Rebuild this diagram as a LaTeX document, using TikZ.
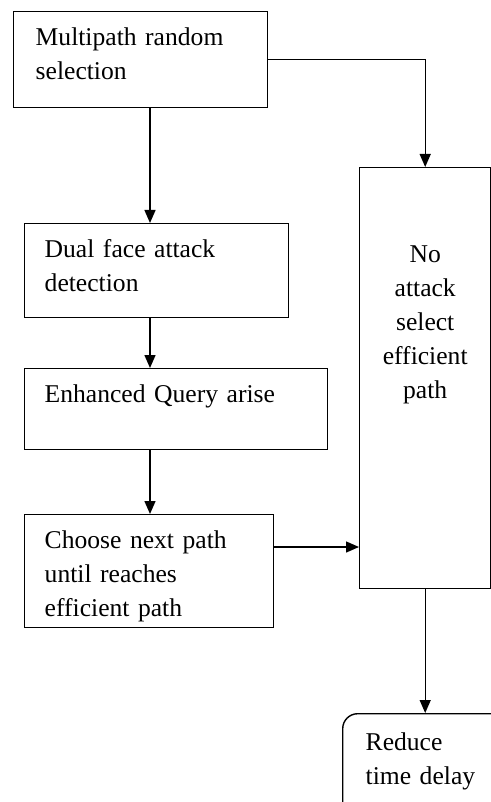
\documentclass[tikz,border=0pt]{standalone}
\usepackage{fontspec}
\setmainfont{Liberation Serif}
\usetikzlibrary{arrows.meta,calc}

\begin{document}
\begin{tikzpicture}[x=1pt,y=-1pt,
 stage/.style={draw,line width=0.7pt,rectangle,anchor=north west,align=left,inner ysep=0pt,inner xsep=10pt,text height=17pt,font=\fontsize{12.8}{17}\selectfont},
 flow/.style={-{Triangle[length=6.5pt,width=5.5pt]},line width=0.7pt}]
\useasboundingbox (0,0) rectangle (245.5,401);
\clip (0,0) rectangle (245.5,401);
\coordinate (spine) at (75,0);

\node[stage,inner xsep=11pt,text width=105pt,text depth=31pt] (select) at (6.5,5.5) {Multipath random\\selection};
\node[stage,text width=112pt,text depth=30pt] (detect) at (12,111.5) {Dual face attack\\detection};
\node[stage,text width=131.5pt,text depth=23.5pt] (query) at (12,184) {Enhanced Query arise};
\node[stage,text width=104.5pt,text depth=39.5pt] (next) at (12,257) {Choose next path\\until reaches\\efficient path};
\node[stage,align=center,inner xsep=2pt,text width=61.5pt,text height=47.5pt,text depth=163pt] (noatk) at (179.5,83.5) {No\\attack\\select\\efficient\\path};
\node[stage,rounded corners=7.5pt,inner xsep=11.5pt,text width=80pt,text height=18.5pt,text depth=45pt] (delay) at (171,356.5) {Reduce\\time delay};

\draw[flow] (select.south -| spine) -- (detect.north -| spine);
\draw[flow] (detect.south -| spine) -- (query.north -| spine);
\draw[flow] (query.south -| spine) -- (next.north -| spine);
\draw[flow] (select.east) -| (noatk.north);
\draw[flow] ([yshift=-16.5pt]next.north east) -- ([yshift=-16.5pt]next.north east -| noatk.west);
\draw[flow] (noatk.south) -- (noatk.south |- delay.north);
\end{tikzpicture}
\end{document}
